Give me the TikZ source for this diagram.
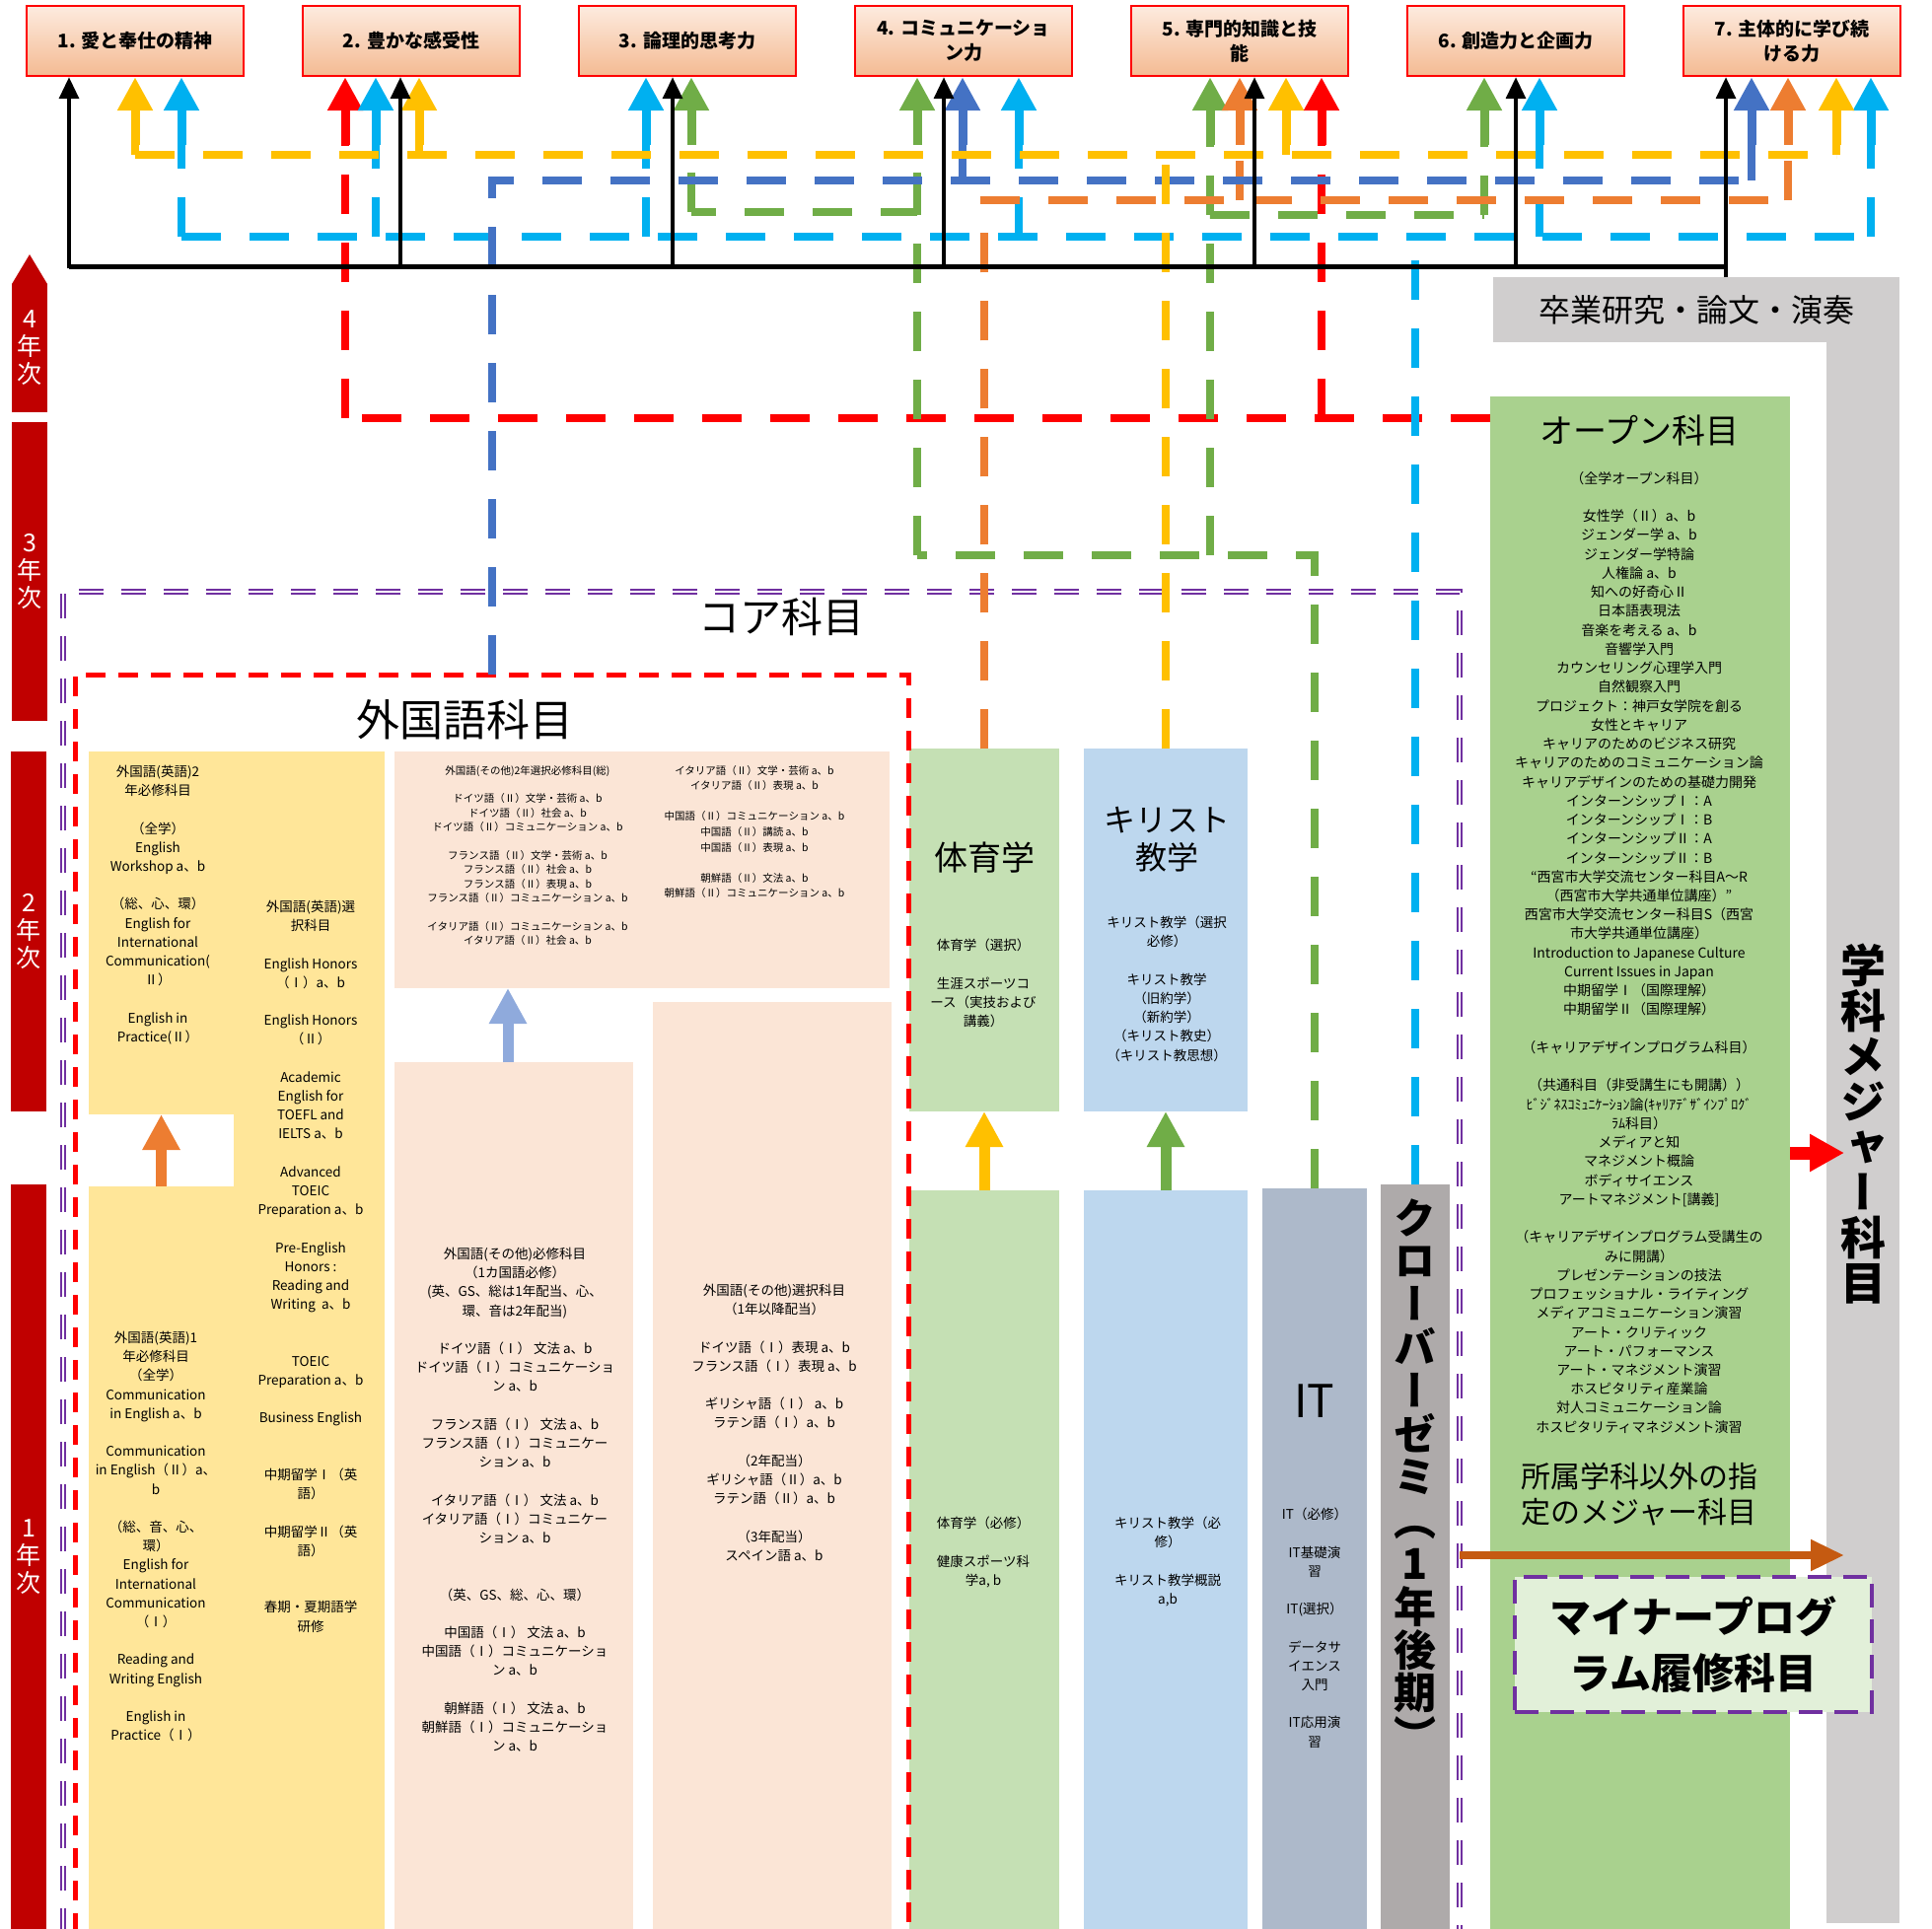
\documentclass[tikz,border=0pt]{standalone}
\usepackage{fontspec}
\setmainfont{Noto Sans CJK JP}
\newfontfamily\vjp{Noto Sans CJK JP}[RawFeature=+vert]
\usetikzlibrary{arrows.meta,positioning,calc}
\definecolor{cred}{HTML}{FF0000}
\definecolor{cyel}{HTML}{FFC000}
\definecolor{clbl}{HTML}{00B0F0}
\definecolor{cblu}{HTML}{4472C4}
\definecolor{cgrn}{HTML}{70AD47}
\definecolor{corg}{HTML}{ED7D31}
\definecolor{cbrn}{HTML}{C55A11}
\definecolor{cpur}{HTML}{7030A0}
\definecolor{yearred}{HTML}{C00000}
\definecolor{engyel}{HTML}{FFE699}
\definecolor{peach}{HTML}{FBE5D6}
\definecolor{pegrn}{HTML}{C5E0B4}
\definecolor{chrblu}{HTML}{BDD7EE}
\definecolor{itgray}{HTML}{ADB9CA}
\definecolor{clovgray}{HTML}{AEAAAA}
\definecolor{majgray}{HTML}{D0CECE}
\definecolor{opengrn}{HTML}{A9D18E}
\definecolor{minorgrn}{HTML}{E2F0D9}
\definecolor{goaltop}{HTML}{FDEBDF}
\definecolor{goalbot}{HTML}{F4BA92}
\definecolor{arrblu}{HTML}{8FAADC}
\newcommand{\setfs}[2]{\fontsize{#1}{#2}\selectfont}
\newcommand{\goalarrow}[4]{%
  \draw[dline,#1] (#2,#3) -- (#2,147);
  \draw[uptip,#1] (#2,147) -- (#4.south -| #2,0);}

\begin{document}
\begin{tikzpicture}[x=1pt,y=-1pt,
    goal/.style={draw=cred, line width=2.5pt, top color=goaltop, bottom color=goalbot, minimum width=220pt, minimum height=71pt, inner sep=0pt, align=center, font=\setfs{19}{25}\bfseries},
    area/.style={inner sep=0pt, outer sep=0pt},
    yearbar/.style={area, fill=yearred, text=white, align=center, minimum width=36pt, font=\setfs{25}{28}},
    subj/.style={anchor=north, inner sep=0pt, align=center, font=\setfs{13.5}{19.2}},
    subjs/.style={anchor=north, inner sep=0pt, align=center, font=\setfs{10.5}{14.4}},
    dline/.style={line width=8pt, dash pattern=on 40pt off 29pt},
    uptip/.style={line width=9pt, -{Triangle[width=34pt,length=34pt]}},
    btip/.style={line width=3.5pt, -{Triangle[width=20pt,length=22pt]}},
    blkarrow/.style={line width=11pt, -{Triangle[width=36pt,length=36pt]}}]
\useasboundingbox (0,0) rectangle (1959,1956);
%goals
\node[goal] (g1) at (137,41.5) {1. 愛と奉仕の精神};
\node[goal] (g2) at (417,41.5) {2. 豊かな感受性};
\node[goal] (g3) at (697,41.5) {3. 論理的思考力};
\node[goal] (g4) at (977,41.5) {4. コミュニケーショ\\ン力};
\node[goal] (g5) at (1257,41.5) {5. 専門的知識と技\\能};
\node[goal] (g6) at (1537,41.5) {6. 創造力と企画力};
\node[goal] (g7) at (1817,41.5) {7. 主体的に学び続\\ける力};
%years
\node[yearbar, minimum height=130pt] (yr4) at (30,353) {4\\年\\次};
\fill[yearred] (yr4.north west) -- ($(yr4.north)+(0,-30)$) -- (yr4.north east) -- cycle;
\node[yearbar, minimum height=303pt] (yr3) at (30,579.5) {3\\年\\次};
\node[yearbar, minimum height=365pt] (yr2) at (29,944.5) {2\\年\\次};
\node[yearbar, minimum height=755pt] (yr1) at (29,1578.5) {1\\年\\次};
%areas
\node[area, fill=engyel, minimum width=147pt, minimum height=368pt] (eng2) at (163.5,946) {};
\node[area, fill=engyel, minimum width=147pt, minimum height=753pt] (eng1) at (163.5,1579.5) {};
\node[area, fill=engyel, minimum width=153pt, minimum height=1194pt] (engsel) at (313.5,1359) {};
\node[area, fill=peach, minimum width=502pt, minimum height=240pt] (oth2) at (651,882) {};
\node[area, fill=peach, minimum width=242pt, minimum height=879pt] (oth1) at (521,1516.5) {};
\node[area, fill=peach, minimum width=242pt, minimum height=940pt] (othsel) at (783,1486) {};
\node[area, fill=pegrn, minimum width=152pt, minimum height=368pt] (pe2) at (998,943) {};
\node[area, fill=pegrn, minimum width=152pt, minimum height=749pt] (pe1) at (998,1581.5) {};
\node[area, fill=chrblu, minimum width=166pt, minimum height=368pt] (chr2) at (1182,943) {};
\node[area, fill=chrblu, minimum width=166pt, minimum height=749pt] (chr1) at (1182,1581.5) {};
\node[area, fill=itgray, minimum width=106pt, minimum height=751pt] (it) at (1333,1580.5) {};
\node[area, fill=clovgray, minimum width=70pt, minimum height=755pt] (clov) at (1435,1578.5) {};
\node[area, fill=opengrn, minimum width=304pt, minimum height=1554pt] (open) at (1663,1179) {};
\node[area, fill=majgray, minimum width=412pt, minimum height=66pt, font=\setfs{32}{32}] (grad) at (1720,314) {卒業研究・論文・演奏};
\node[area, fill=majgray, minimum width=74pt, minimum height=1603pt] (maj) at (1889,1148.5) {};
%frames
\coordinate (coreR) at (1480,600);
\coordinate (fltop) at (499,684);
\draw[cpur, line width=1.4pt, double=white, double distance=2.6pt, dash pattern=on 25pt off 18pt] (64,1960) |- (coreR) -- (1480,1960);
\draw[cred, line width=5pt, dash pattern=on 20pt off 13pt] (76,1960) |- (921,684) -- (921,1960);
%block arrows
\draw[blkarrow, corg] (eng1.north) -- (eng2.south);
\draw[blkarrow, arrblu] ($(oth1.north)+(-6,0)$) -- ($(oth1.north |- oth2.south)+(-6,0)$);
\draw[blkarrow, cyel] (pe1.north) -- (pe2.south);
\draw[blkarrow, cgrn] (chr1.north) -- (chr2.south);
\draw[line width=13pt, cred, -{Triangle[width=36pt,length=35pt]}] (open.east |- 0,1169) -- ++(55,0);
\draw[line width=8pt, cbrn, -{Triangle[width=30pt,length=34pt]}] (coreR |- 0,1577) -- ++(390,0);
\node[area, draw=cpur, line width=4pt, dash pattern=on 24pt off 12pt, fill=minorgrn, minimum width=362pt, minimum height=137pt, align=center, font=\setfs{42}{57}\bfseries] (minor) at (1717,1667.5) {マイナープログ\\ラム履修科目};
%lines to goals
\draw[dline, cred] (open.west |- 0,424) -- (350,424);
\goalarrow{cred}{350}{424}{g2}
\goalarrow{cred}{1340}{424}{g5}
\draw[dline, cgrn] (it.north) |- (930,563);
\draw[dline, cgrn] (1227,563) -- (1227,218) -- (1505,218);
\draw[dline, cgrn] (930,563) -- (930,215) -- (701,215);
\goalarrow{cgrn}{701}{215}{g3}
\goalarrow{cgrn}{930}{215}{g4}
\goalarrow{cgrn}{1227}{218}{g5}
\goalarrow{cgrn}{1505}{218}{g6}
\draw[dline, clbl] (clov.north) -- (clov.north |- 0,240);
\draw[dline, clbl] (184,240) -- (1897,240);
\foreach \x/\g in {184/g1,381/g2,655/g3,1033/g4,1561/g6,1897/g7}
  \goalarrow{clbl}{\x}{240}{\g}
\draw[dline, corg] (pe2.north) |- (1813,203);
\goalarrow{corg}{1257}{203}{g5}
\goalarrow{corg}{1813}{203}{g7}
\draw[dline, cblu] (fltop) |- (1776,183);
\goalarrow{cblu}{976}{183}{g4}
\goalarrow{cblu}{1776}{183}{g7}
\draw[dline, cyel] (chr2.north) -- (chr2.north |- 0,157);
\draw[dline, cyel] (137,157) -- (1862,157);
\foreach \x/\g in {137/g1,425/g2,1304/g5,1862/g7}
  \goalarrow{cyel}{\x}{157}{\g}
\draw[line width=5pt] (70,270) -- (1750,270);
\draw[btip] (grad.north -| 1750,0) -- (g7.south -| 1750,0);
\foreach \x/\g in {70/g1,406/g2,682/g3,957/g4,1272/g5,1537/g6}
  \draw[btip] (\x,272) -- (\g.south -| \x,0);
%labels
\node[font=\setfs{42}{42}] (corelbl) at (792,625) {コア科目};
\node[font=\setfs{44}{44}] (fllbl) at (471,730) {外国語科目};
\node[font=\setfs{34}{34}] (pelbl) at (998,870) {体育学};
\node[align=center, font=\setfs{32}{38}] (chrlbl) at (1183,851) {キリスト\\教学};
\node[font=\setfs{46}{46}] (itlbl) at (1333,1421) {IT};
\node[font=\setfs{34}{34}] (openlbl) at (1662,437) {オープン科目};
\node[align=center, font=\setfs{30}{36}] (otherlbl) at (1662,1515) {所属学科以外の指\\定のメジャー科目};
\node[align=center, inner sep=0pt, font=\vjp\setfs{46}{46}\bfseries] (majlbl) at (1889,1140) {学\\科\\メ\\ジ\\ャ\\ー\\科\\目};
\node[align=center, inner sep=0pt, font=\vjp\setfs{43}{43.8}\bfseries] (clovlbl) at (1435,1496) {ク\\ロ\\ー\\バ\\ー\\ゼ\\ミ\\（\\1\\年\\後\\期\\）};
%subjects
\node[subj] (eng2txt) at (160,776) {外国語(英語)2\\年必修科目\\~\\（全学）\\English\\Workshop a、b\\~\\（総、心、環）\\English for\\International\\Communication(\\Ⅱ）\\~\\English in\\Practice(Ⅱ）};
\node[subj] (engseltxt) at (315,913) {外国語(英語)選\\択科目\\~\\English Honors\\（Ⅰ）a、b\\~\\English Honors\\（Ⅱ）\\~\\Academic\\English for\\TOEFL and\\IELTS a、b\\~\\Advanced\\TOEIC\\Preparation a、b\\~\\Pre-English\\Honors :\\Reading and\\Writing\ \ a、b\\~\\~\\TOEIC\\Preparation a、b\\~\\Business English\\~\\~\\中期留学Ⅰ（英\\語）\\~\\中期留学Ⅱ（英\\語）\\~\\~\\春期・夏期語学\\研修};
\node[subj] (eng1txt) at (158,1350) {外国語(英語)1\\年必修科目\\（全学）\\Communication\\in English a、b\\~\\Communication\\in English（Ⅱ）a、\\b\\~\\（総、音、心、\\環）\\English for\\International\\Communication\\（Ⅰ）\\~\\Reading and\\Writing English\\~\\English in\\Practice（Ⅰ）};
\node[subjs] (oth2txt) at (535,776) {外国語(その他)2年選択必修科目(総)\\~\\ドイツ語（Ⅱ）文学・芸術 a、b\\ドイツ語（Ⅱ）社会 a、b\\ドイツ語（Ⅱ）コミュニケーション a、b\\~\\フランス語（Ⅱ）文学・芸術 a、b\\フランス語（Ⅱ）社会 a、b\\フランス語（Ⅱ）表現 a、b\\フランス語（Ⅱ）コミュニケーション a、b\\~\\イタリア語（Ⅱ）コミュニケーション a、b\\イタリア語（Ⅱ）社会 a、b};
\node[subjs, font=\setfs{10.5}{15.6}] (oth2txtb) at (765,776) {イタリア語（Ⅱ）文学・芸術 a、b\\イタリア語（Ⅱ）表現 a、b\\~\\中国語（Ⅱ）コミュニケーション a、b\\中国語（Ⅱ）講読 a、b\\中国語（Ⅱ）表現 a、b\\~\\朝鮮語（Ⅱ）文法 a、b\\朝鮮語（Ⅱ）コミュニケーション a、b};
\node[subj] (oth1txt) at (522,1265) {外国語(その他)必修科目\\（1カ国語必修）\\(英、GS、総は1年配当、心、\\環、音は2年配当)\\~\\ドイツ語（Ⅰ） 文法 a、b\\ドイツ語（Ⅰ）コミュニケーショ\\ン a、b\\~\\フランス語（Ⅰ） 文法 a、b\\フランス語（Ⅰ）コミュニケー\\ション a、b\\~\\イタリア語（Ⅰ） 文法 a、b\\イタリア語（Ⅰ）コミュニケー\\ション a、b\\~\\~\\（英、GS、総、心、環）\\~\\中国語（Ⅰ） 文法 a、b\\中国語（Ⅰ）コミュニケーショ\\ン a、b\\~\\朝鮮語（Ⅰ） 文法 a、b\\朝鮮語（Ⅰ）コミュニケーショ\\ン a、b};
\node[subj] (othseltxt) at (785,1302) {外国語(その他)選択科目\\（1年以降配当）\\~\\ドイツ語（Ⅰ）表現 a、b\\フランス語（Ⅰ）表現 a、b\\~\\ギリシャ語（Ⅰ） a、b\\ラテン語（Ⅰ）a、b\\~\\（2年配当）\\ギリシャ語（Ⅱ）a、b\\ラテン語（Ⅱ）a、b\\~\\（3年配当）\\スペイン語 a、b};
\node[subj] (pe2txt) at (997,952) {体育学（選択）\\~\\生涯スポーツコ\\ース（実技および\\講義）};
\node[subj] (chr2txt) at (1183,929) {キリスト教学（選択\\必修）\\~\\キリスト教学\\（旧約学）\\（新約学）\\（キリスト教史）\\（キリスト教思想）};
\node[subj] (pe1txt) at (997,1538) {体育学（必修）\\~\\健康スポーツ科\\学a, b};
\node[subj] (chr1txt) at (1184,1538) {キリスト教学（必\\修）\\~\\キリスト教学概説\\a,b};
\node[subj] (ittxt) at (1333,1529) {IT（必修）\\~\\IT基礎演\\習\\~\\IT(選択）\\~\\データサ\\イエンス\\入門\\~\\IT応用演\\習};
\node[subj, font=\setfs{14}{19.24}] (opentxt) at (1662,478) {（全学オープン科目）\\~\\女性学（Ⅱ）a、b\\ジェンダー学 a、b\\ジェンダー学特論\\人権論 a、b\\知への好奇心Ⅱ\\日本語表現法\\音楽を考える a、b\\音響学入門\\カウンセリング心理学入門\\自然観察入門\\プロジェクト：神戸女学院を創る\\女性とキャリア\\キャリアのためのビジネス研究\\キャリアのためのコミュニケーション論\\キャリアデザインのための基礎力開発\\インターンシップⅠ：A\\インターンシップⅠ：B\\インターンシップⅡ：A\\インターンシップⅡ：B\\“西宮市大学交流センター科目A～R\\（西宮市大学共通単位講座）”\\西宮市大学交流センター科目S（西宮\\市大学共通単位講座）\\Introduction to Japanese Culture\\Current Issues in Japan\\中期留学Ⅰ（国際理解）\\中期留学Ⅱ（国際理解）\\~\\（キャリアデザインプログラム科目）\\~\\（共通科目（非受講生にも開講））\\ﾋﾞｼﾞﾈｽｺﾐｭﾆｹｰｼｮﾝ論(ｷｬﾘｱﾃﾞｻﾞｲﾝﾌﾟﾛｸﾞ\\ﾗﾑ科目）\\メディアと知\\マネジメント概論\\ボディサイエンス\\アートマネジメント[講義]\\~\\（キャリアデザインプログラム受講生の\\みに開講）\\プレゼンテーションの技法\\プロフェッショナル・ライティング\\メディアコミュニケーション演習\\アート・クリティック\\アート・パフォーマンス\\アート・マネジメント演習\\ホスピタリティ産業論\\対人コミュニケーション論\\ホスピタリティマネジメント演習};
\end{tikzpicture}
\end{document}
